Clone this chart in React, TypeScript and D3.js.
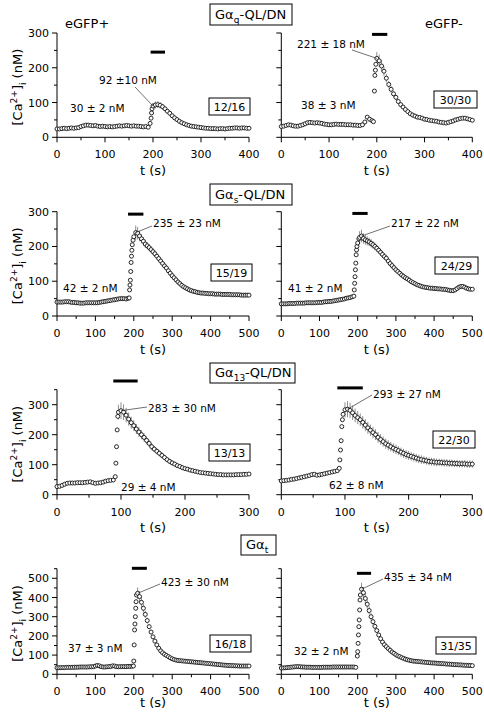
import React from 'react';
import * as d3 from 'd3';

// ---------- DATA ----------
// Gαq-QL/DN, eGFP+
const gqPlusPre = [24,24,25,26,25,26,27,26,27,28, 31,33,35,35,34,33,34,32,31,32, 31,30,31,30,31,32,33,32,33,34, 33,32,33,32,32,31,30,31,29];
const gqPlusRiseT = [194,196,197,198];
const gqPlusRiseV = [40,55,70,82];
const gqPlusPost = [90,93,94,92,88,82,75,69,62,56, 51,46,42,39,36,34,32,31,30,29, 28,27,26,26,25,25,25,24,25,25, 24,25,26,26,27,27,26,27,27,26, 26];
const gqPlusErr = [8,10,10,9,8,7,6,5,5,4,4,3];
// Gαq-QL/DN, eGFP-
const gqMinusPre = [31,32,34,36,35,33,32,32,34,36, 39,42,43,42,41,42,41,40,38,37, 36,36,37,38,37,37,37,36,36,36, 35,35,34,34,36,44,58,52,48];
const gqMinusRiseT = [193,195,196,197,198];
const gqMinusRiseV = [45,133,178,193,210];
const gqMinusPost = [227,220,205,190,170,152,138,125,115,103, 94,87,80,74,68,64,61,58,57,55, 52,51,49,48,47,46,44,43,42,41, 43,45,47,50,52,54,55,55,53,51, 49];
const gqMinusErr = [18,18,16,14,12,10,9,8,7,6,5,5,4,4,3];
// Gαs-QL/DN, eGFP+
const gsPlusPre = [40,40,40,40,41,41,41,40,39,39, 38,38,37,37,37,38,38,38,38,38, 38,38,39,40,41,42,43,44,45,46, 47,48,49,50,50,50,49,51];
const gsPlusRiseT = [188,189,190,191,192,193,194,195,196,198,200];
const gsPlusRiseV = [52,75,89,103,128,154,172,189,205,218,228];
const gsPlusPost = [240,238,230,222,215,207,202,197,191,185, 179,172,165,158,151,144,138,130,123,116, 110,104,98,93,88,84,81,78,75,73, 71,70,68,67,66,66,65,65,64,64, 64,63,63,63,63,62,62,62,62,62, 61,61,61,61,61,60,60,60,60,60];
const gsPlusErr = [20,18,15,13,12,11,10,10,9,9,9,8,8,8,8,7,7,7,7,6,6,6,5,5,5,5,4,4,4,4];
// Gαs-QL/DN, eGFP-
const gsMinusPre = [35,35,35,35,36,36,36,36,37,37, 37,37,37,38,38,38,38,38,38,39, 39,39,40,41,41,42,42,43,44,45, 46,47,48,49,51,52,53,55];
const gsMinusRiseT = [190,191,192,193,194,195,196,197,198,200,203];
const gsMinusRiseV = [57,75,94,113,133,152,176,190,200,210,222];
const gsMinusPost = [226,230,223,219,216,213,209,205,200,195, 189,183,177,171,166,158,151,145,139,133, 128,123,118,114,110,107,103,99,96,93, 90,88,86,84,83,82,81,80,80,79, 79,78,78,77,77,76,75,74,73,73, 75,79,83,85,85,83,80,78,77,77];
const gsMinusErr = [18,18,15,14,13,12,12,11,11,10,10,10,9,9,9,8,8,8,7,7,7,6,6,6,5,5,5,5,4,4];
// Gα13-QL/DN, eGFP+
const g13PlusPre = [27,28,31,35,38,39,39,39,40,40, 40,41,42,43,40,38,39,40,42,45, 47,48,49];
const g13PlusRiseT = [91,92,93,94,95];
const g13PlusRiseV = [60,105,160,216,261];
const g13PlusPost = [275,280,275,265,252,240,230,219,209,200, 191,181,171,160,152,145,138,131,124,117, 111,106,102,97,94,90,87,85,82,80, 78,76,74,73,72,71,70,69,68,67, 67,66,66,66,66,66,67,67,67,68, 68,69];
const g13PlusErr = [25,28,26,24,22,20,18,17,16,15,14,13,12,12,11,11,10,10,9,9,9,8,8,8,7,7,7,6,6,6,6,5,5,5,5,5];
// Gα13-QL/DN, eGFP-
const g13MinusPre = [46,47,48,49,51,52,54,56,58,60, 62,64,67,68,65,66,68,70,72,74, 76,78,80];
const g13MinusRiseT = [91,92,93,94,95,96,97];
const g13MinusRiseV = [88,116,149,180,227,250,268];
const g13MinusPost = [283,285,281,273,264,257,250,241,232,223, 215,207,200,191,184,177,170,165,160,155, 151,147,142,138,134,131,128,125,122,119, 117,115,113,111,110,109,108,108,107,106, 106,105,105,104,104,103,103,103,102,102, 102];
const g13MinusErr = [25,27,25,24,23,22,21,21,20,20,19,19,18,18,18,17,17,17,16,16,16,15,15,15,15,15,14,14,14,14,14,13,13,13,13,13,13,12,12,12,12,12,12,12,12,12,12,12,12,12,12];
// Gαt, eGFP+
const gtPlusPre = [34,34,35,35,35,36,36,36,36,37, 37,37,38,38,38,38,38,39,39,40, 43,46,44,40,38,38,39,40,41,44, 43,40,39,40,40,40,40,41,41,42];
const gtPlusRiseT = [199,200,201,202,203,204,205,206,207];
const gtPlusRiseV = [43,69,153,231,262,300,344,378,413];
const gtPlusPost = [422,405,375,344,312,280,248,220,195,173, 153,136,122,112,104,98,92,86,81,77, 74,72,71,70,69,68,67,66,65,64, 63,62,61,60,59,58,57,56,55,54, 53,52,51,50,49,48,47,46,46,45, 45,44,44,43,43,43,43,43,43];
const gtPlusErr = [30,28,25,22,19,16,14,12,10,9,8,7,6,6,5,5,4,4];
// Gαt, eGFP-
const gtMinusPre = [33,33,34,35,36,37,38,39,40,40, 39,38,38,37,37,37,36,36,36,36, 36,36,37,37,37,37,37,38,38,38, 38,38,38,38,38,38,38,38,38,36];
const gtMinusRiseT = [199,200,201,202,203,204,205,206,207];
const gtMinusRiseV = [95,118,161,205,248,283,335,387,413];
const gtMinusPost = [443,425,395,365,332,300,274,250,228,205, 185,168,154,144,134,125,116,109,102,96, 92,87,83,79,76,73,71,69,68,67, 66,65,64,63,62,61,60,59,59,58, 57,56,56,55,54,53,53,52,51,50, 50,49,49,48,47,47,46,46,45];
const gtMinusErr = [34,30,27,24,21,18,16,14,12,10,9,8,7,6,6,5,5,4];

// stimulus bars [start, end, level]
const stimGqPlus = [195, 225, 245];
const stimGqMinus = [190, 222, 296];
const stimGsPlus = [185, 225, 293];
const stimGsMinus = [186, 226, 295];
const stim13Plus = [88, 126, 379];
const stim13Minus = [88, 128, 356];
const stimGtPlus = [195, 234, 552];
const stimGtMinus = [198, 235, 526];

// annotation texts
const baseLabels = ['30 ± 2 nM', '38 ± 3 nM', '42 ± 2 nM', '41 ± 2 nM', '29 ± 4 nM', '62 ± 8 nM', '37 ± 3 nM', '32 ± 2 nM'];
const peakLabels = ['92 ±10 nM', '221 ± 18 nM', '235 ± 23 nM', '217 ± 22 nM', '283 ± 30 nM', '293 ± 27  nM', '423 ± 30 nM', '435 ± 34 nM'];
const countLabels = ['12/16', '30/30', '15/19', '24/29', '13/13', '22/30', '16/18', '31/35'];
// leader targets [t, value]
const peakTargets = [[200, 90], [200, 227], [205, 240], [210, 230], [100, 280], [104, 285], [210, 422], [210, 443]];

// x-axis max and y-axis max per row
const rowXMax = [400, 500, 300, 500];
const rowYMax = [300, 300, 350, 550];
const rowYLabelMax = [300, 300, 300, 500];

// ---------- LAYOUT ----------
const FONT = 'DejaVu Sans';
const COLS = [{ l: 57, r: 249 }, { l: 281.3, r: 472.3 }];
const ROWS = [
  { bot: 137.3, top: 33, tLab: 175 },
  { bot: 316, top: 211.7, tLab: 354 },
  { bot: 494.7, top: 389.7, tLab: 532 },
  { bot: 674.3, top: 568.7, tLab: 707 },
];

type PanelDef = {
  pre: number[]; preDt: number;
  riseT: number[]; riseV: number[];
  post: number[]; postT0: number; postDt: number;
  err: number[]; stim: number[];
  row: number; col: number;
  base: [number, number]; peak: [number, number]; lead: [number, number]; box: [number, number, number, number];
};

const panels: PanelDef[] = [
  { pre: gqPlusPre, preDt: 5, riseT: gqPlusRiseT, riseV: gqPlusRiseV, post: gqPlusPost, postT0: 200, postDt: 5, err: gqPlusErr, stim: stimGqPlus, row: 0, col: 0, base: [70, 112], peak: [99, 84], lead: [135, 87], box: [209, 98, 41, 17] },
  { pre: gqMinusPre, preDt: 5, riseT: gqMinusRiseT, riseV: gqMinusRiseV, post: gqMinusPost, postT0: 200, postDt: 5, err: gqMinusErr, stim: stimGqMinus, row: 0, col: 1, base: [301, 109], peak: [297, 48], lead: [352, 50], box: [434, 91, 43, 17] },
  { pre: gsPlusPre, preDt: 5, riseT: gsPlusRiseT, riseV: gsPlusRiseV, post: gsPlusPost, postT0: 205, postDt: 5, err: gsPlusErr, stim: stimGsPlus, row: 1, col: 0, base: [63, 292], peak: [153, 227], lead: [152, 226], box: [211, 264, 41, 17] },
  { pre: gsMinusPre, preDt: 5, riseT: gsMinusRiseT, riseV: gsMinusRiseV, post: gsMinusPost, postT0: 205, postDt: 5, err: gsMinusErr, stim: stimGsMinus, row: 1, col: 1, base: [288, 292], peak: [391, 227], lead: [390, 226], box: [435, 257, 43, 17] },
  { pre: g13PlusPre, preDt: 4, riseT: g13PlusRiseT, riseV: g13PlusRiseV, post: g13PlusPost, postT0: 96, postDt: 4, err: g13PlusErr, stim: stim13Plus, row: 2, col: 0, base: [121, 491], peak: [148, 412], lead: [147, 407], box: [209, 444, 41, 17] },
  { pre: g13MinusPre, preDt: 4, riseT: g13MinusRiseT, riseV: g13MinusRiseV, post: g13MinusPost, postT0: 100, postDt: 4, err: g13MinusErr, stim: stim13Minus, row: 2, col: 1, base: [329, 489], peak: [373, 398], lead: [372, 395], box: [433, 431, 42, 17] },
  { pre: gtPlusPre, preDt: 5, riseT: gtPlusRiseT, riseV: gtPlusRiseV, post: gtPlusPost, postT0: 210, postDt: 5, err: gtPlusErr, stim: stimGtPlus, row: 3, col: 0, base: [68, 652], peak: [161, 586], lead: [160, 584], box: [210, 635, 41, 17] },
  { pre: gtMinusPre, preDt: 5, riseT: gtMinusRiseT, riseV: gtMinusRiseV, post: gtMinusPost, postT0: 210, postDt: 5, err: gtMinusErr, stim: stimGtMinus, row: 3, col: 1, base: [294, 655], peak: [384, 581], lead: [383, 579], box: [436, 637, 40, 17] },
];

const titles = [
  { x: 210, y: 4, w: 82, h: 21, sub: 'q', rest: '-QL/DN' },
  { x: 210, y: 184, w: 82, h: 21, sub: 's', rest: '-QL/DN' },
  { x: 210, y: 363, w: 85, h: 20, sub: '13', rest: '-QL/DN' },
  { x: 241, y: 535, w: 35, h: 20, sub: 't', rest: '' },
];

function Panel({ p, i }: { p: PanelDef; i: number }) {
  const c = COLS[p.col];
  const r = ROWS[p.row];
  const x = d3.scaleLinear().domain([0, rowXMax[p.row]]).range([c.l, c.r]);
  const y = d3.scaleLinear().domain([0, rowYMax[p.row]]).range([r.bot, r.top]);
  const xMajor = d3.range(0, rowXMax[p.row] + 1, 100);
  const xMinor = d3.range(50, rowXMax[p.row], 100);
  const yMajor = d3.range(0, rowYLabelMax[p.row] + 1, 100);
  const yMinor = d3.range(50, rowYMax[p.row] + 1, 100);

  const pts: { t: number; v: number; e: number }[] = [];
  p.pre.forEach((v, k) => pts.push({ t: k * p.preDt, v, e: 0 }));
  p.riseT.forEach((t, k) => pts.push({ t, v: p.riseV[k], e: 0 }));
  p.post.forEach((v, k) => pts.push({ t: p.postT0 + k * p.postDt, v, e: p.err[k] || 0 }));

  const [pt, pv] = peakTargets[i];
  return (
    <g>
      {/* axes */}
      <line x1={c.l} x2={c.r} y1={r.bot} y2={r.bot} stroke="#000" strokeWidth={1} />
      <line x1={c.l} x2={c.l} y1={r.bot} y2={r.top} stroke="#000" strokeWidth={1} />
      {xMajor.map((t) => (
        <g key={'xm' + t}>
          <line x1={x(t)} x2={x(t)} y1={r.bot} y2={r.bot + 5} stroke="#000" />
          <text x={x(t)} y={r.bot + 21} textAnchor="middle" fontSize={11} fontFamily={FONT}>{t}</text>
        </g>
      ))}
      {xMinor.map((t) => (
        <line key={'xn' + t} x1={x(t)} x2={x(t)} y1={r.bot} y2={r.bot + 3} stroke="#000" />
      ))}
      {yMajor.map((v) => (
        <g key={'ym' + v}>
          <line x1={c.l - 5} x2={c.l} y1={y(v)} y2={y(v)} stroke="#000" />
          {p.col === 0 && (
            <text x={c.l - 8} y={y(v) + 4} textAnchor="end" fontSize={11} fontFamily={FONT}>{v}</text>
          )}
        </g>
      ))}
      {yMinor.map((v) => (
        <line key={'yn' + v} x1={c.l - 3} x2={c.l} y1={y(v)} y2={y(v)} stroke="#000" />
      ))}
      <text x={(c.l + c.r) / 2} y={r.tLab} textAnchor="middle" fontSize={13} fontFamily={FONT}>t (s)</text>
      {p.col === 0 && (
        <text transform={`translate(22,${(r.top + r.bot) / 2 + 2}) rotate(-90)`} textAnchor="middle" fontSize={13} fontFamily={FONT}>
          [Ca<tspan dy={-5} fontSize={9}>2+</tspan><tspan dy={5}>]</tspan><tspan dy={4} fontSize={9}>i</tspan><tspan dy={-4}> (nM)</tspan>
        </text>
      )}
      {/* error bars */}
      {pts.filter((d) => d.e > 0).map((d, k) => (
        <line key={'e' + k} x1={x(d.t)} x2={x(d.t)} y1={y(d.v - d.e)} y2={y(d.v + d.e)} stroke="#8f8f8f" strokeWidth={1} />
      ))}
      {/* markers */}
      {pts.map((d, k) => (
        <circle key={'c' + k} cx={x(d.t)} cy={y(d.v)} r={2} fill="#fff" stroke="#111" strokeWidth={0.9} />
      ))}
      {/* stimulus bar */}
      <line x1={x(p.stim[0])} x2={x(p.stim[1])} y1={y(p.stim[2])} y2={y(p.stim[2])} stroke="#000" strokeWidth={3} />
      {/* annotations */}
      <text x={p.base[0]} y={p.base[1]} fontSize={10.5} fontFamily={FONT}>{baseLabels[i]}</text>
      <text x={p.peak[0]} y={p.peak[1]} fontSize={10.5} fontFamily={FONT}>{peakLabels[i]}</text>
      <line x1={p.lead[0]} y1={p.lead[1]} x2={x(pt)} y2={y(pv)} stroke="#333" strokeWidth={0.7} />
      <rect x={p.box[0]} y={p.box[1]} width={p.box[2]} height={p.box[3]} fill="#fff" stroke="#000" strokeWidth={1} />
      <text x={p.box[0] + p.box[2] / 2} y={p.box[1] + p.box[3] / 2 + 4} textAnchor="middle" fontSize={11} fontFamily={FONT}>{countLabels[i]}</text>
    </g>
  );
}

export default function App() {
  return (
    <div style={{ position: 'absolute', left: 0, top: 0 }}>
      <svg width={484} height={713} style={{ display: 'block', background: '#fff' }}>
        <rect x={0} y={0} width={484} height={713} fill="#fff" />
        {panels.map((p, i) => <Panel key={i} p={p} i={i} />)}
        {titles.map((t, k) => (
          <g key={'t' + k}>
            <rect x={t.x} y={t.y} width={t.w} height={t.h} fill="#fff" stroke="#000" strokeWidth={1} />
            <text x={t.x + 5} y={t.y + t.h / 2 + 4} fontSize={13} fontFamily={FONT}>
              Gα<tspan dy={4} fontSize={9}>{t.sub}</tspan><tspan dy={-4}>{t.rest}</tspan>
            </text>
          </g>
        ))}
        <text x={65} y={28} fontSize={13} fontFamily={FONT}>eGFP+</text>
        <text x={425} y={28} fontSize={13} fontFamily={FONT}>eGFP-</text>
      </svg>
    </div>
  );
}
